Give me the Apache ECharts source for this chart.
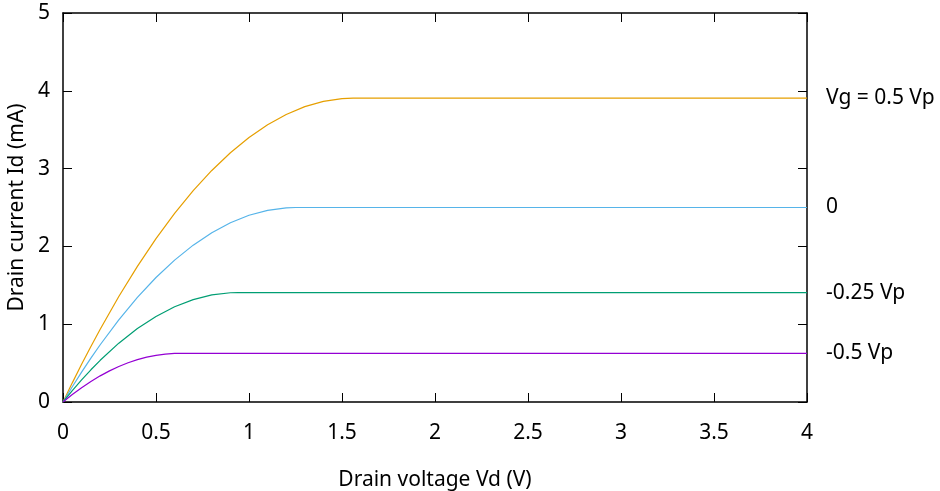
<!DOCTYPE html>
<html>
<head>
<meta charset="utf-8">
<script src="https://cdn.jsdelivr.net/npm/echarts@6/dist/echarts.min.js"></script>
<style>
  html, body { margin: 0; padding: 0; background: #fff; }
  #main { width: 940px; height: 491px; }
</style>
</head>
<body>
<div id="main"></div>
<script>
// curves: [Vd, Id]
var vgHalfVp = [[0, 0], [0.05, 0.246], [0.1, 0.484], [0.15, 0.714], [0.2, 0.936], [0.3, 1.356],
  [0.4, 1.744], [0.5, 2.1], [0.6, 2.424], [0.7, 2.716], [0.8, 2.976], [0.9, 3.204],
  [1.0, 3.4], [1.1, 3.564], [1.2, 3.696], [1.3, 3.796], [1.4, 3.864], [1.5, 3.9],
  [1.56, 3.906], [4, 3.906]];
var vgZero = [[0, 0], [0.05, 0.196], [0.1, 0.384], [0.15, 0.564], [0.2, 0.736], [0.3, 1.056],
  [0.4, 1.344], [0.5, 1.6], [0.6, 1.824], [0.7, 2.016], [0.8, 2.176], [0.9, 2.304],
  [1.0, 2.4], [1.1, 2.464], [1.2, 2.496], [1.25, 2.5], [4, 2.5]];
var vgQuarterVp = [[0, 0], [0.05, 0.146], [0.1, 0.284], [0.15, 0.414], [0.2, 0.536],
  [0.3, 0.756], [0.4, 0.944], [0.5, 1.1], [0.6, 1.224], [0.7, 1.316], [0.8, 1.376],
  [0.9, 1.404], [0.94, 1.406], [4, 1.406]];
var vgMinusHalfVp = [[0, 0], [0.05, 0.096], [0.1, 0.184], [0.15, 0.264], [0.2, 0.336],
  [0.25, 0.4], [0.3, 0.456], [0.35, 0.504], [0.4, 0.544], [0.45, 0.576], [0.5, 0.6],
  [0.55, 0.616], [0.6, 0.624], [0.625, 0.625], [4, 0.625]];

var curveNames = ['Vg = 0.5 Vp', '0', '-0.25 Vp', '-0.5 Vp'];
var curveData = [vgHalfVp, vgZero, vgQuarterVp, vgMinusHalfVp];
var curveColors = ['#e69f00', '#56b4e9', '#009e73', '#9400d3'];

var font = 'Noto Sans';
var fs = 21;
var myChart = echarts.init(document.getElementById('main'));

var series = curveData.map(function (d, i) {
    return {
        name: curveNames[i],
        type: 'line',
        data: d,
        smooth: false,
        showSymbol: false,
        lineStyle: {color: curveColors[i], width: 1.2},
        endLabel: {
            show: true,
            formatter: curveNames[i],
            color: '#000',
            fontFamily: font,
            fontSize: fs,
            distance: 19
        }
    };
});

var tickStyle = {inside: true, length: 9, lineStyle: {color: '#000', width: 1}};
var lineStyle = {show: true, onZero: false, lineStyle: {color: '#000', width: 1.5}};
option = {
    animation: false,
    grid: {left: 63, right: 133, top: 13, bottom: 89, containLabel: false, outerBoundsMode: 'none'},
    xAxis: [
        {
            type: 'value', min: 0, max: 4, interval: 0.5,
            name: 'Drain voltage Vd (V)',
            nameLocation: 'middle',
            nameGap: 68,
            nameTextStyle: {fontFamily: font, fontSize: fs, color: '#000'},
            axisLine: lineStyle,
            axisTick: tickStyle,
            axisLabel: {fontFamily: font, fontSize: fs, color: '#000', margin: 21},
            splitLine: {show: false}
        },
        {
            type: 'value', min: 0, max: 4, interval: 0.5, position: 'top',
            axisLine: lineStyle,
            axisTick: tickStyle,
            axisLabel: {show: false},
            splitLine: {show: false}
        }
    ],
    yAxis: [
        {
            type: 'value', min: 0, max: 5, interval: 1,
            name: 'Drain current Id (mA)',
            nameLocation: 'middle',
            nameGap: 33,
            nameTextStyle: {fontFamily: font, fontSize: fs, color: '#000'},
            axisLine: lineStyle,
            axisTick: tickStyle,
            axisLabel: {fontFamily: font, fontSize: fs, color: '#000', margin: 13},
            splitLine: {show: false}
        },
        {
            type: 'value', min: 0, max: 5, interval: 1, position: 'right',
            axisLine: lineStyle,
            axisTick: tickStyle,
            axisLabel: {show: false},
            splitLine: {show: false}
        }
    ],
    series: series
};
myChart.setOption(option);
</script>
</body>
</html>
